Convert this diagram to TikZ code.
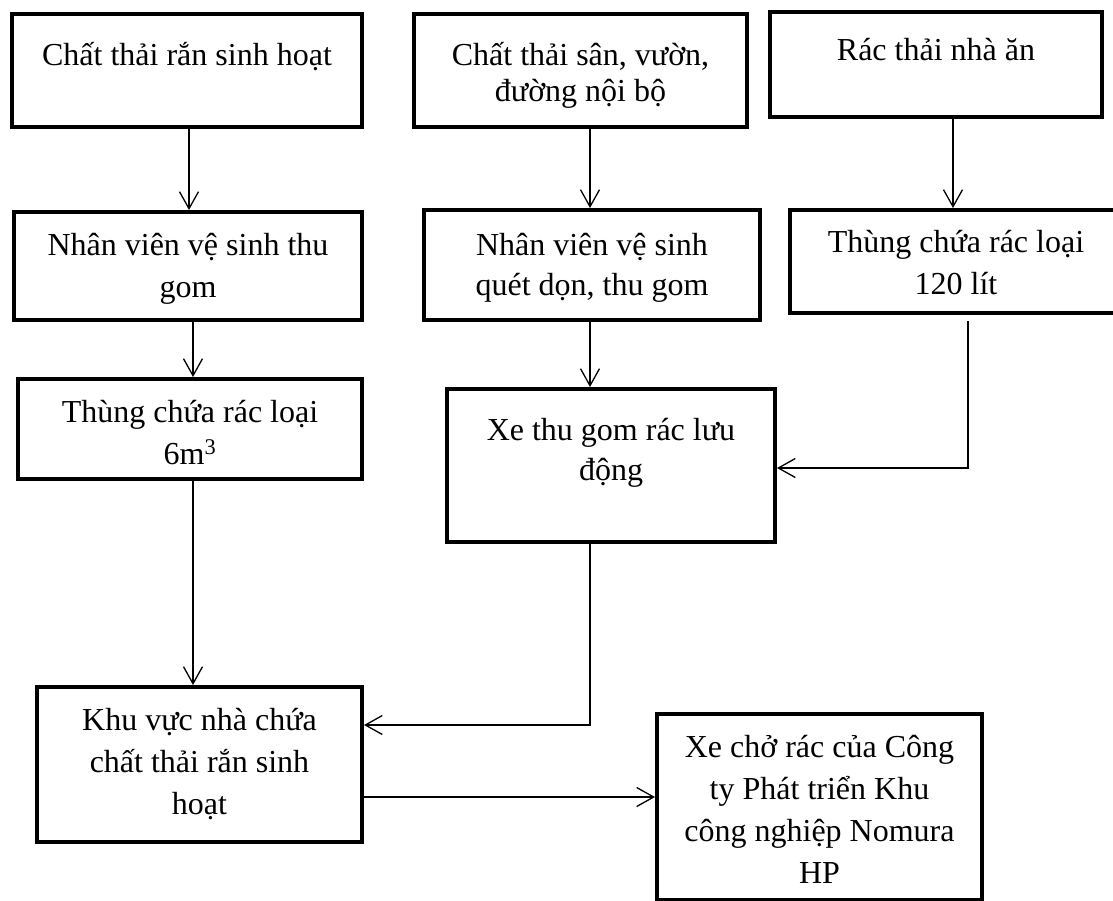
\documentclass[tikz,border=0pt]{standalone}
\usepackage{fontspec}
\setmainfont{Liberation Serif}
\usetikzlibrary{arrows.meta}

% Box text: width, height, first-baseline offset, line spacing, lines
\newcommand{\boxtext}[5]{%
  \parbox[t][#2][t]{#1}{\centering\fontsize{32}{#4}\selectfont\rule{0pt}{#3}#5}}

\begin{document}
\begin{tikzpicture}[x=1pt,y=-1pt,
  stagebox/.style={draw, line width=4pt, inner sep=0pt, anchor=north west},
  flow/.style={line width=1.3pt, -{Straight Barb[length=17pt,width=19pt,line width=1.3pt]}},
  link/.style={line width=1.3pt}]
\useasboundingbox (0,0) rectangle (1113,900);

% Process stages
\node[stagebox] (b1) at (10,12)   {\boxtext{350pt}{113pt}{51pt}{42pt}{Chất thải rắn sinh hoạt}};
\node[stagebox] (b2) at (412,12)  {\boxtext{333pt}{113pt}{51pt}{36pt}{Chất thải sân, vườn,\\đường nội bộ}};
\node[stagebox] (b3) at (768,10)  {\boxtext{332pt}{105pt}{48pt}{42pt}{Rác thải nhà ăn}};
\node[stagebox] (b4) at (12,210)  {\boxtext{348pt}{108pt}{43pt}{42pt}{Nhân viên vệ sinh thu\\gom}};
\node[stagebox] (b5) at (422,208) {\boxtext{336pt}{110pt}{45pt}{40pt}{Nhân viên vệ sinh\\quét dọn, thu gom}};
\node[stagebox] (b6) at (788,208) {\boxtext{332pt}{103pt}{42pt}{42pt}{Thùng chứa rác loại\\120 lít}};
\node[stagebox] (b7) at (16,377)  {\boxtext{344pt}{100pt}{43pt}{42pt}{Thùng chứa rác loại\\6m\textsuperscript{3}}};
\node[stagebox] (b8) at (445,387) {\boxtext{328pt}{153pt}{51pt}{40pt}{Xe thu gom rác lưu\\động}};
\node[stagebox] (b9) at (35,685)  {\boxtext{325pt}{155pt}{43pt}{42pt}{Khu vực nhà chứa\\chất thải rắn sinh\\hoạt}};
\node[stagebox] (b10) at (655,712) {\boxtext{325pt}{186pt}{43pt}{42pt}{Xe chở rác của Công\\ty Phát triển Khu\\công nghiệp Nomura\\HP}};

% Connector lanes
\coordinate (l1) at (189,0);
\coordinate (l1b) at (193,0);
\coordinate (l2) at (590,0);
\coordinate (l3) at (953,0);
\coordinate (l3b) at (968,0);
\coordinate (r8) at (0,468);
\coordinate (r9) at (0,725);
\coordinate (r10) at (0,797);

% Connectors
\draw[flow] (b1.south -| l1) -- (b4.north -| l1);
\draw[flow] (b2.south -| l2) -- (b5.north -| l2);
\draw[flow] (b3.south -| l3) -- (b6.north -| l3);
\draw[flow] (b4.south -| l1b) -- (b7.north -| l1b);
\draw[flow] (b5.south -| l2) -- (b8.north -| l2);
\draw[flow] ([yshift=-6pt]b6.south -| l3b) -- (l3b |- r8) -- (b8.east |- r8);
\draw[flow] (b7.south -| l1b) -- (b9.north -| l1b);
\draw[flow] (b8.south -| l2) -- (l2 |- r9) -- (b9.east |- r9);
\draw[flow] (b9.east |- r10) -- (b10.west |- r10);
\end{tikzpicture}
\end{document}
